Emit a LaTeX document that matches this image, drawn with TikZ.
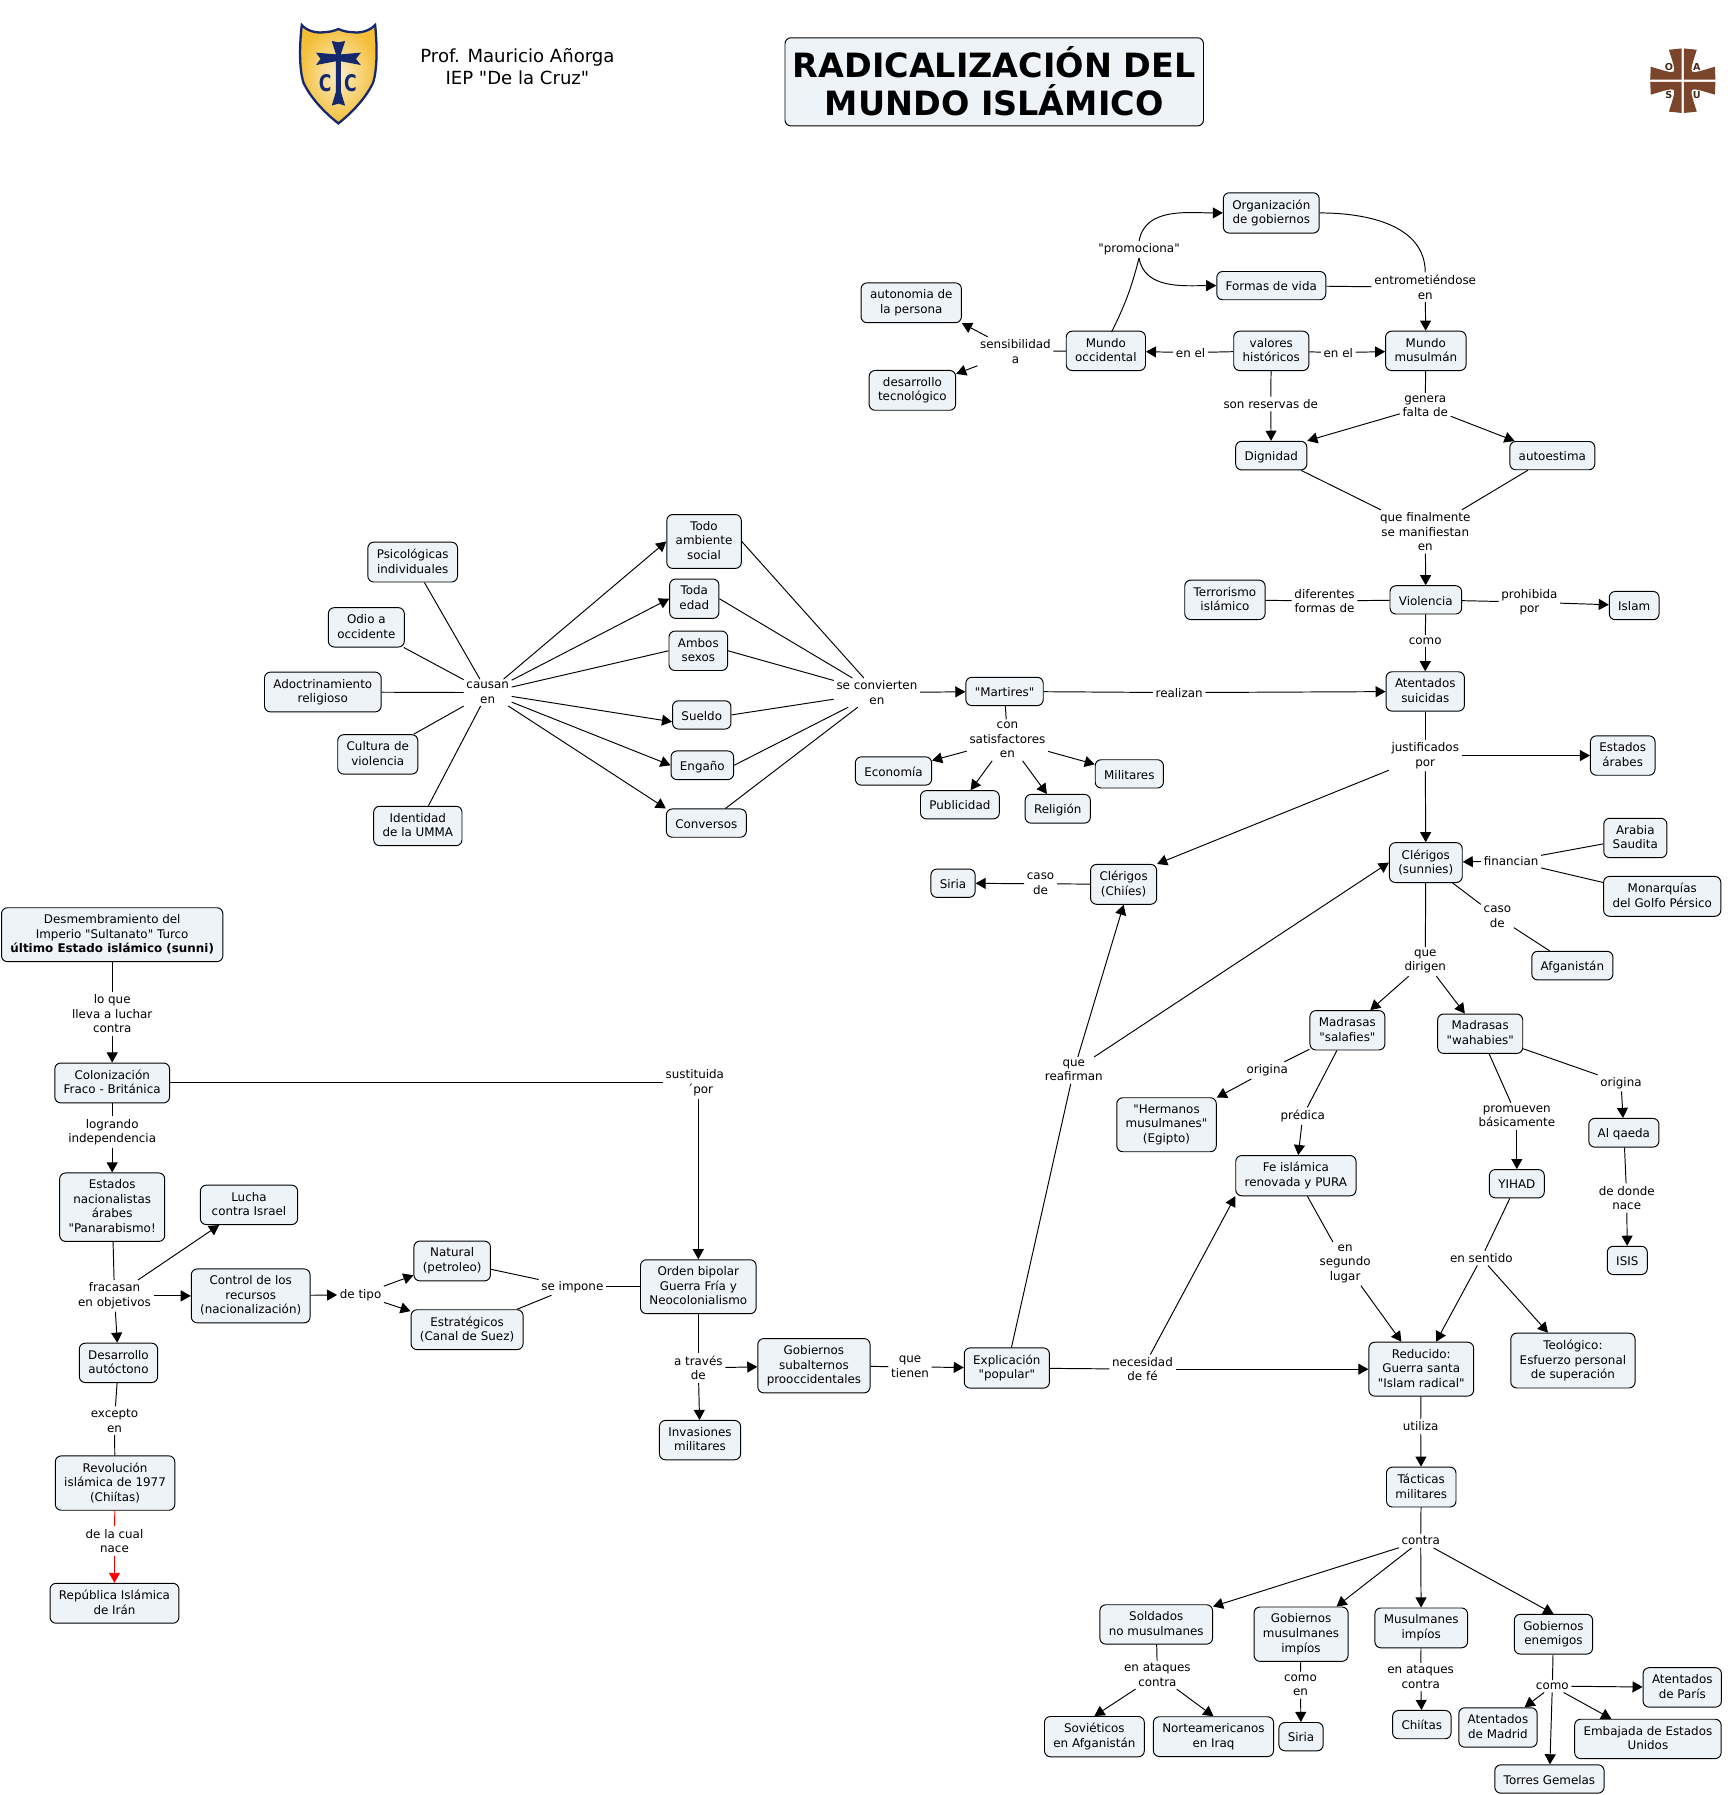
\documentclass[tikz,border=0pt]{standalone}
\usepackage{fontspec}
\setmainfont{DejaVu Sans}[Ligatures=TeXOff]
\usetikzlibrary{arrows.meta}
\definecolor{cptfill}{HTML}{EDF3F6}
\definecolor{logonavy}{HTML}{14286E}
\definecolor{logogold}{HTML}{F4BE36}
\definecolor{logobrown}{HTML}{7A452B}
\newcommand{\cptstrut}{\rule[-0.9pt]{0pt}{6.35pt}}
\begin{document}
\begin{tikzpicture}[x=0.5pt,y=-0.5pt,line width=0.42pt,
  font=\fontsize{5.2}{6.35}\selectfont,
  >={Triangle[length=4.4pt,width=4.8pt]},
  cpt/.style={draw=black,rounded corners=2.6pt,fill=cptfill,align=center,
              inner xsep=3.9pt,inner ysep=3pt,
              execute at begin node=\cptstrut,execute at end node=\cptstrut},
  lbl/.style={align=center,inner sep=1pt,yshift=-0.5pt},
  logotxt/.style={inner sep=0pt,text=logobrown!60!black,font=\fontsize{4.2}{5}\selectfont\bfseries},
  shieldtxt/.style={inner sep=0pt,text=logonavy,font=\fontsize{10}{10}\selectfont\bfseries,xscale=.75,transform shape}]
\useasboundingbox (0,0) rectangle (1509,1568);
% header
\shade[draw=logonavy,line width=1pt,inner color=logogold!25!white,outer color=logogold]
  (263.6,21.8) .. controls (268,27) and (276,29) .. (282.5,28.2) .. controls (288,28) and (292,27) .. (295.6,25.3)
  .. controls (299,27) and (303,28) .. (308.7,28.2) .. controls (315,29) and (323,27) .. (327.7,21.8)
  .. controls (330,45) and (329,62) .. (326,72) .. controls (320,85) and (308,98) .. (295.6,107.8)
  .. controls (283,98) and (271,85) .. (265,72) .. controls (262,62) and (261,45) .. (263.6,21.8) -- cycle;
\fill[logonavy] (289.8,35.8) -- (295.6,37) -- (301.5,35.8) -- (297.7,47.5) -- (315.2,46) -- (311,51.5) -- (315.2,56.8)
  -- (297.7,53.5) -- (297.7,80) -- (301.5,92.3) -- (295.6,90.5) -- (289.8,92.3) -- (293.5,80) -- (293.5,53.5)
  -- (276.1,56.8) -- (280,51.5) -- (276.1,46) -- (293.5,47.5) -- cycle;
\node[shieldtxt] (shieldcl) at (284,73) {C};
\node[shieldtxt] (shieldcr) at (306,73) {C};
\node[lbl,font=\fontsize{7.9}{9.7}\selectfont,yshift=0.5pt] (prof) at (452,58.5) {Prof. Mauricio Añorga\\IEP "De la Cruz"};
\node[cpt,font=\fontsize{14.6}{16.75}\selectfont\bfseries,inner xsep=3.4pt,inner ysep=0pt,minimum height=38.5pt,
  execute at begin node={\rule{0pt}{13.25pt}},execute at end node={}] (title) at (868.5,71.5) {RADICALIZACIÓN DEL\\MUNDO ISLÁMICO};
\foreach \sx/\sy in {1/1,-1/1,1/-1,-1/-1}
  \fill[logobrown,shift={(1470,70.5)},xscale=\sx,yscale=\sy] (-1,-1) -- (-1,-28.2) -- (-12.2,-27)
    .. controls (-9,-17) and (-6.5,-10) .. (-8,-8) .. controls (-10,-6.5) and (-17,-9) .. (-28,-12.2) -- (-28.5,-1) -- cycle;
\node[logotxt] (logoo) at (1457.8,58.3) {O};
\node[logotxt] (logoa) at (1482.2,58.3) {A};
\node[logotxt] (logos) at (1457.8,82.7) {S};
\node[logotxt] (logou) at (1482.2,82.7) {U};
% upper right
\node[cpt] (org) at (1110.5,186) {Organización\\de gobiernos};
\node[cpt] (formas) at (1110.5,249.5) {Formas de vida};
\node[cpt] (auton) at (796,264.5) {autonomia de\\la persona};
\node[cpt] (desar) at (797,341) {desarrollo\\tecnológico};
\node[cpt] (occ) at (966,306.5) {Mundo\\occidental};
\node[cpt] (val) at (1110.5,306.5) {valores\\históricos};
\node[cpt] (mus) at (1245.5,306.5) {Mundo\\musulmán};
\node[cpt] (dig) at (1110.5,398) {Dignidad};
\node[cpt] (auto) at (1356,398) {autoestima};
\node[cpt] (terr) at (1070,524) {Terrorismo\\islámico};
\node[cpt] (viol) at (1245.5,524) {Violencia};
\node[cpt] (islam) at (1427.5,529) {Islam};
\node[cpt] (aten) at (1245,604) {Atentados\\suicidas};
\node[cpt] (mart) at (877.5,604) {"Martires"};
\node[cpt] (estar) at (1417.5,660) {Estados\\árabes};
\node[cpt] (clers) at (1245.5,753.5) {Clérigos\\(sunnies)};
\node[cpt] (clerc) at (981.5,772.5) {Clérigos\\(Chiíes)};
\node[cpt] (siriaa) at (832.5,771.5) {Siria};
\node[cpt] (arabia) at (1428.5,732) {Arabia\\Saudita};
\node[cpt] (golfo) at (1452,783) {Monarquías\\del Golfo Pérsico};
\node[cpt] (afg) at (1373.5,843.5) {Afganistán};
\node[cpt] (sal) at (1177,900) {Madrasas\\"salafies"};
\node[cpt] (wah) at (1293,903) {Madrasas\\"wahabies"};
\node[cpt] (herm) at (1019,982.5) {"Hermanos\\musulmanes"\\(Egipto)};
\node[cpt] (fe) at (1132,1027) {Fe islámica\\renovada y PURA};
\node[cpt] (yihad) at (1325,1034) {YIHAD};
\node[cpt] (qaeda) at (1418.5,989.5) {Al qaeda};
\node[cpt] (isis) at (1421.5,1101) {ISIS};
\node[cpt] (redu) at (1241.5,1196) {Reducido:\\Guerra santa\\"Islam radical"};
\node[cpt] (teo) at (1374,1188.5) {Teológico:\\Esfuerzo personal\\de superación};
\node[cpt] (tac) at (1241.5,1299) {Tácticas\\militares};
\node[cpt] (sold) at (1010,1419) {Soldados\\no musulmanes};
\node[cpt] (gobimp) at (1136.5,1427.5) {Gobiernos\\musulmanes\\impíos};
\node[cpt] (musimp) at (1241.5,1422) {Musulmanes\\impíos};
\node[cpt] (gobene) at (1357,1427.5) {Gobiernos\\enemigos};
\node[cpt] (sov) at (956,1517) {Soviéticos\\en Afganistán};
\node[cpt] (nor) at (1060,1517) {Norteamericanos\\en Iraq};
\node[cpt] (siriab) at (1136.5,1517) {Siria};
\node[cpt] (chi) at (1242,1506.5) {Chiítas};
\node[cpt] (mad) at (1308.5,1509) {Atentados\\de Madrid};
\node[cpt] (paris) at (1469.5,1474) {Atentados\\de París};
\node[cpt] (emb) at (1439.5,1519) {Embajada de Estados\\Unidos};
\node[cpt] (torres) at (1353.5,1554) {Torres Gemelas};
% fan in the middle
\node[cpt] (psi) at (360.5,491) {Psicológicas\\individuales};
\node[cpt] (odio) at (320,548) {Odio a\\occidente};
\node[cpt] (adoc) at (282,604.5) {Adoctrinamiento\\religioso};
\node[cpt] (cult) at (330,659) {Cultura de\\violencia};
\node[cpt] (iden) at (365,721.5) {Identidad\\de la UMMA};
\node[cpt] (todo) at (615,473) {Todo\\ambiente\\social};
\node[cpt,minimum width=21.5pt] (toda) at (606.5,523) {Toda\\edad};
\node[cpt] (ambos) at (610,568.5) {Ambos\\sexos};
\node[cpt] (sueldo) at (613,624.5) {Sueldo};
\node[cpt] (engano) at (613.5,668.5) {Engaño};
\node[cpt] (conv) at (617,719) {Conversos};
\node[cpt] (eco) at (780.5,673.5) {Economía};
\node[cpt] (pub) at (838.5,703) {Publicidad};
\node[cpt] (relig) at (924,706.5) {Religión};
\node[cpt] (mil) at (986.5,676) {Militares};
% left column
\node[cpt] (desm) at (98,816.5) {Desmembramiento del\\Imperio "Sultanato" Turco\\\textbf{último Estado islámico (sunni)}};
\node[cpt] (colon) at (98,946) {Colonización\\Fraco - Británica};
\node[cpt] (estn) at (98,1054.5) {Estados\\nacionalistas\\árabes\\"Panarabismo!};
\node[cpt,minimum width=42.5pt] (lucha) at (217.5,1052.5) {Lucha\\ contra Israel};
\node[cpt] (control) at (219,1132) {Control de los\\recursos\\(nacionalización)};
\node[cpt] (desaut) at (103.5,1190.5) {Desarrollo\\autóctono};
\node[cpt] (rev) at (100.5,1295.5) {Revolución\\islámica de 1977\\(Chiítas)};
\node[cpt] (rep) at (100,1400.5) {República Islámica\\de Irán};
\node[cpt] (nat) at (395,1101.5) {Natural\\(petroleo)};
\node[cpt] (estr) at (408,1161.5) {Estratégicos\\(Canal de Suez)};
\node[cpt] (orden) at (610,1124) {Orden bipolar\\Guerra Fría y\\Neocolonialismo};
\node[cpt] (gobsub) at (711,1193) {Gobiernos\\subalternos\\prooccidentales};
\node[cpt] (inv) at (611.5,1258) {Invasiones\\militares};
\node[cpt] (expl) at (879.5,1195) {Explicación\\"popular"};
% linking phrases
\node[lbl] (prom) at (995,217) {"promociona"};
\node[lbl] (entro) at (1245,250) {entrometiéndose\\en};
\node[lbl] (sens) at (887,306) {sensibilidad\\a};
\node[lbl] (enela) at (1040,307) {en el};
\node[lbl] (enelb) at (1169,307) {en el};
\node[lbl] (sonres) at (1110,352) {son reservas de};
\node[lbl] (genera) at (1245,354) {genera\\falta de};
\node[lbl] (quefin) at (1245,463.5) {que finalmente\\se manifiestan\\en};
\node[lbl] (difer) at (1157,524) {diferentes\\formas de};
\node[lbl] (prohib) at (1336,525) {prohibida\\por};
\node[lbl] (comoa) at (1245,559) {como};
\node[lbl] (causan) at (426,604) {causan\\en};
\node[lbl] (secon) at (766,604) {se convierten\\en};
\node[lbl] (realizan) at (1030,604) {realizan};
\node[lbl] (consat) at (880,645.5) {con\\satisfactores\\en};
\node[lbl] (justif) at (1245,659) {justificados\\por};
\node[lbl] (casoa) at (909,771) {caso\\de};
\node[lbl] (financ) at (1320,751) {financian};
\node[lbl] (casob) at (1308,800) {caso\\de};
\node[lbl] (quedir) at (1245,839) {que\\dirigen};
\node[lbl] (origa) at (1107,934) {origina};
\node[lbl] (predica) at (1138,974) {prédica};
\node[lbl] (origb) at (1416,945) {origina};
\node[lbl] (promuev) at (1325,974) {promueven\\básicamente};
\node[lbl] (dedonde) at (1421,1045.5) {de donde\\nace};
\node[lbl] (quereaf) at (938,934) {que\\reafirman};
\node[lbl] (ensent) at (1294,1098) {en sentido};
\node[lbl] (ensegundo) at (1175,1103) {en\\segundo\\lugar};
\node[lbl] (neces) at (998,1195) {necesidad\\de fé};
\node[lbl] (utiliza) at (1241,1245) {utiliza};
\node[lbl] (contra) at (1241,1345) {contra};
\node[lbl] (ataqa) at (1011,1462) {en ataques\\contra};
\node[lbl] (ataqb) at (1241,1464) {en ataques\\contra};
\node[lbl] (comoen) at (1136,1471) {como\\en};
\node[lbl] (comob) at (1356,1472) {como};
\node[lbl] (loque) at (98,884.5) {lo que\\lleva a luchar\\contra};
\node[lbl] (logrando) at (98,988) {logrando\\independencia};
\node[lbl] (fracasan) at (100,1131) {fracasan\\en objetivos};
\node[lbl] (excepto) at (100,1240) {excepto\\en};
\node[lbl] (delacual) at (100,1345) {de la cual\\nace};
\node[lbl] (sust) at (607,945) {sustituida\\\hspace*{0.9em}´por};
\node[lbl] (detipo) at (315,1130) {de tipo};
\node[lbl] (seimpone) at (500,1123) {se impone};
\node[lbl] (atraves) at (610,1194) {a través\\de};
\node[lbl] (quetienen) at (795,1193) {que\\tienen};
% connectors
\coordinate (occtop) at (971,290);
\draw (occtop) to[bend right=6] (prom.south);
\draw[->] (prom.north) to[out=80,in=180] (org);
\draw[->] (prom.south) to[out=-80,in=180] (formas);
\draw (org) to[out=0,in=90] (entro.north);
\draw (formas) -- (entro);
\draw[->] (entro) -- (mus);
\draw (occ) -- (sens);
\draw[->] (sens) -- (auton.south east);
\draw[->] (sens) -- (desar);
\draw (val) -- (enela); \draw[->] (enela) -- (occ);
\draw (val) -- (enelb); \draw[->] (enelb) -- (mus);
\draw (val) -- (sonres); \draw[->] (sonres) -- (dig);
\draw (mus) -- (genera);
\draw[->] (genera) -- (dig.north east);
\draw[->] (genera) -- (auto);
\draw (dig) -- (quefin); \draw (auto) -- (quefin);
\draw[->] (quefin) -- (viol);
\draw (terr) -- (difer); \draw (difer) -- (viol);
\draw (viol) -- (prohib); \draw[->] (prohib) -- (islam);
\draw (viol) -- (comoa); \draw[->] (comoa) -- (aten);
\draw (mart) -- (realizan); \draw[->] (realizan) -- (aten);
\draw (aten) -- (justif);
\draw[->] (justif) -- (estar);
\draw[->] (justif) -- (clers);
\draw[->] (justif) -- (clerc.north east);
\draw (clerc) -- (casoa); \draw[->] (casoa) -- (siriaa);
\draw (arabia) -- (financ); \draw (golfo) -- (financ);
\draw[->] (financ) -- (clers);
\draw (clers) -- (casob); \draw (casob) -- (afg);
\draw (clers) -- (quedir);
\draw[->] (quedir) -- (sal); \draw[->] (quedir) -- (wah);
\draw (sal) -- (origa); \draw[->] (origa) -- (herm);
\draw (sal) -- (predica); \draw[->] (predica) -- (fe);
\draw (wah) -- (promuev); \draw[->] (promuev) -- (yihad);
\draw (wah) -- (origb); \draw[->] (origb) -- (qaeda);
\draw (qaeda) -- (dedonde); \draw[->] (dedonde) -- (isis);
\draw (expl) -- (quereaf);
\draw[->] (quereaf) -- (clerc.south);
\draw[->] (quereaf) -- (clers.west);
\draw (fe) -- (ensegundo); \draw[->] (ensegundo) -- (redu);
\draw (yihad) -- (ensent);
\draw[->] (ensent) -- (redu); \draw[->] (ensent) -- (teo);
\draw (expl) -- (neces);
\draw[->] (neces) -- (fe.south west);
\draw[->] (neces) -- (redu);
\draw (redu) -- (utiliza); \draw[->] (utiliza) -- (tac);
\draw (tac) -- (contra);
\foreach \dest in {sold,gobimp,musimp,gobene.north}
  \draw[->] (contra) -- (\dest);
\draw (sold) -- (ataqa);
\draw[->] (ataqa) -- (sov.north); \draw[->] (ataqa) -- (nor.north);
\draw (gobimp) -- (comoen); \draw[->] (comoen) -- (siriab);
\draw (musimp) -- (ataqb); \draw[->] (ataqb) -- (chi);
\draw (gobene) -- (comob);
\foreach \dest in {mad,emb,torres}
  \draw[->] (comob) -- (\dest);
\draw[->] (comob.east) -- (paris);
\foreach \src in {psi,odio,adoc,cult,iden}
  \draw (\src) -- (causan);
\foreach \dest in {todo.west,toda.west,sueldo.193,engano.west,conv.north west}
  \draw[->] (causan) -- (\dest);
\draw (causan) -- (ambos.west);
\foreach \src in {todo.east,toda.east,ambos.east,sueldo.east,engano.east,conv}
  \draw (\src) -- (secon);
\draw[->] (secon) -- (mart);
\draw (mart) -- (consat);
\foreach \dest in {eco,pub,relig,mil}
  \draw[->] (consat) -- (\dest);
\draw (desm) -- (loque); \draw[->] (loque) -- (colon);
\draw (colon) -- (logrando); \draw[->] (logrando) -- (estn);
\draw (colon.east) -- (colon.east -| sust.west);
\draw[->] (sust.south -| orden.north) -- (orden.north);
\draw (estn) -- (fracasan);
\draw[->] (fracasan) -- (lucha);
\draw[->] (fracasan) -- (control);
\draw[->] (fracasan) -- (desaut);
\draw (desaut) -- (excepto); \draw (excepto) -- (rev);
\draw[red] (rev) -- (delacual); \draw[->,red] (delacual) -- (rep);
\draw[->] (control) -- (detipo);
\draw[->] (detipo) -- (nat); \draw[->] (detipo) -- (estr);
\draw (nat) -- (seimpone); \draw (estr) -- (seimpone); \draw (orden) -- (seimpone);
\draw (orden) -- (atraves);
\draw[->] (atraves) -- (gobsub); \draw[->] (atraves) -- (inv);
\draw (gobsub) -- (quetienen); \draw[->] (quetienen) -- (expl);
\end{tikzpicture}
\end{document}
